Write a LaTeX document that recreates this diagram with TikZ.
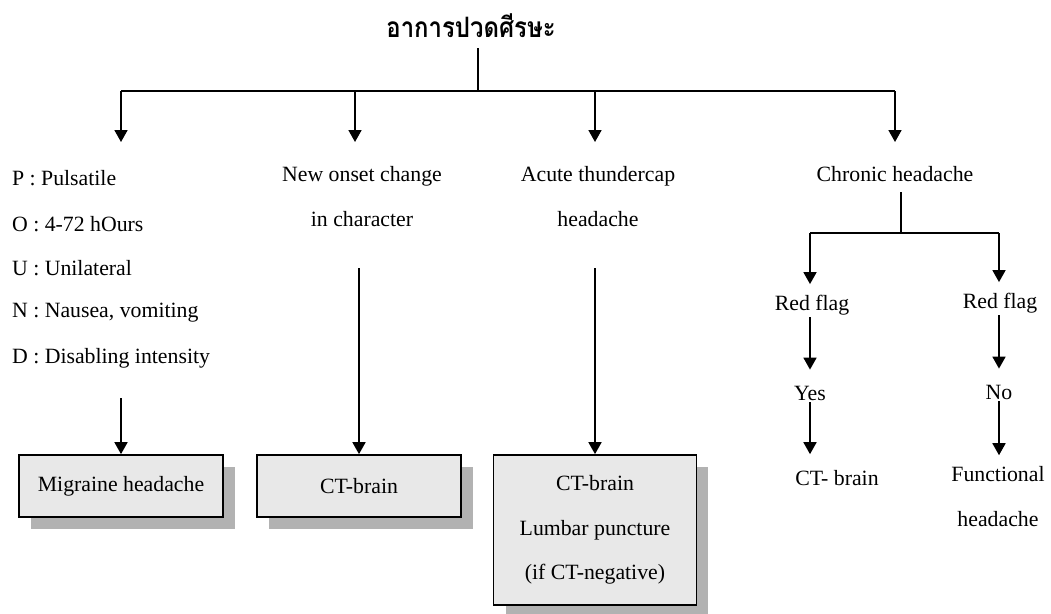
\documentclass[tikz,border=0pt]{standalone}
\usepackage{fontspec}
\setmainfont{Liberation Serif}
\newfontfamily\thaifont[Script=Thai]{Loma}
\usetikzlibrary{arrows.meta, positioning, shadows}

\begin{document}
\begin{tikzpicture}[
    x=0.02cm, y=-0.02cm,
    every node/.style={font=\fontsize{12.4}{25.5}\selectfont, inner sep=1pt},
    ttl/.style={font=\thaifont\bfseries\fontsize{16}{20}\selectfont},
    txt/.style={align=center, anchor=north},
    sym/.style={anchor=west},
    ln/.style={line width=1pt},
    arr/.style={ln, -{Triangle[width=0.26cm, length=0.24cm]}},
    res/.style={draw, ln, fill=black!9, align=center, minimum width=4.08cm,
        drop shadow={shadow xshift=0.24cm, shadow yshift=-0.24cm, opacity=1, fill=black!30}},
]
    \useasboundingbox (0,0) rectangle (1051,613);

    \node[ttl] (top) at (471,26) {\scalebox{0.85}[1]{อาการปวดศีรษะ}};
    \coordinate (t0) at (478,48);
    \coordinate (hub) at (478,91);
    \coordinate (b1) at (121,91);
    \coordinate (b2) at (355,91);
    \coordinate (b3) at (595,91);
    \coordinate (b4) at (895,91);
    \coordinate (e1) at (121,142);
    \draw[ln] (t0) -- (hub);
    \draw[ln] (b1) -- (b4);
    \draw[arr] (b1) -- (e1);
    \draw[arr] (b2) -- (b2 |- e1);
    \draw[arr] (b3) -- (b3 |- e1);
    \draw[arr] (b4) -- (b4 |- e1);

    % POUND
    \node[sym] (p) at (10,178) {P : Pulsatile};
    \node[sym] (o) at (10,224) {O : 4-72 hOurs};
    \node[sym] (u) at (10,268) {U : Unilateral};
    \node[sym] (n) at (10,313) {N : Nausea, vomiting};
    \node[sym] (d) at (10,358) {D : Disabling intensity};

    \node[txt] (new) at (362,164) {New onset change\\in character};
    \node[txt] (acute) at (598,164) {Acute thundercap\\headache};
    \node[txt] (chr) at (895,164) {Chronic headache};

    % results
    \node[res, minimum height=1.24cm] (mig) at (121,486) {Migraine headache};
    \node[res, minimum height=1.24cm] (ct) at (359,486) {CT-brain};
    \node[res, minimum height=3cm, minimum width=4.06cm, font=\fontsize{12.4}{25.2}\selectfont] (lp) at (595,530)
        {CT-brain\\Lumbar puncture\\(if CT-negative)};
    \coordinate (s1) at (121,398);
    \coordinate (s2) at (359,268);
    \coordinate (s3) at (595,268);
    \draw[arr] (s1) -- (mig);
    \draw[arr] (s2) -- (ct);
    \draw[arr] (s3) -- (lp);

    % chronic branch
    \coordinate (r0) at (901,192);
    \coordinate (hub2) at (901,233);
    \coordinate (c1) at (810,233);
    \coordinate (c2) at (999,233);
    \draw[ln] (r0) -- (hub2);
    \draw[ln] (c1) -- (c2);
    \node (rf1) at (812,305) {Red flag};
    \node (rf2) at (1000,303) {Red flag};
    \node (yes) at (810,393) {Yes};
    \node (no) at (999,392) {No};
    \node (ctb) at (837,478) {CT- brain};
    \node[txt] (fun) at (998,464) {Functional\\headache};
    \draw[arr] (c1) -- ([yshift=5pt]c1 |- rf1.north);
    \draw[arr] (c2) -- ([yshift=5pt]c2 |- rf2.north);
    \draw[arr] (rf1.south -| c1) -- ([yshift=8pt]c1 |- yes.north);
    \draw[arr] (rf2.south -| c2) -- ([yshift=8pt]c2 |- no.north);
    \draw[arr] (yes.south -| c1) -- ([yshift=8pt]c1 |- ctb.north);
    \draw[arr] (no.south -| c2) -- ([yshift=5pt]c2 |- fun.north);
\end{tikzpicture}
\end{document}
